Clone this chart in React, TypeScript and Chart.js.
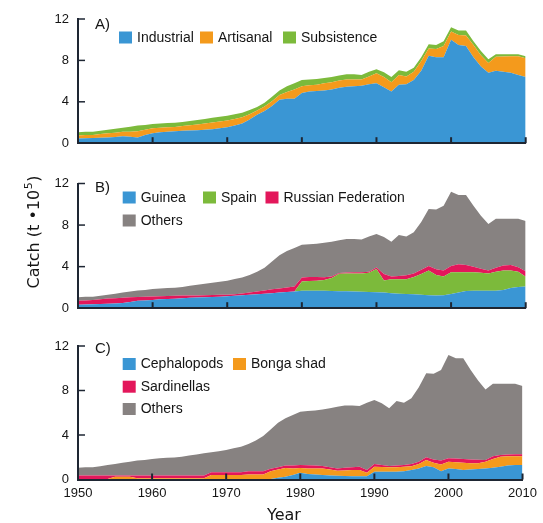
import React, { useEffect, useRef } from "react";
import { Chart, registerables } from "chart.js";
Chart.register(...registerables);

const YEARS = [
  1950, 1951, 1952, 1953, 1954, 1955, 1956, 1957, 1958, 1959,
  1960, 1961, 1962, 1963, 1964, 1965, 1966, 1967, 1968, 1969,
  1970, 1971, 1972, 1973, 1974, 1975, 1976, 1977, 1978, 1979,
  1980, 1981, 1982, 1983, 1984, 1985, 1986, 1987, 1988, 1989,
  1990, 1991, 1992, 1993, 1994, 1995, 1996, 1997, 1998, 1999,
  2000, 2001, 2002, 2003, 2004, 2005, 2006, 2007, 2008, 2009,
  2010,
];

const X_TICKS = [1950, 1960, 1970, 1980, 1990, 2000, 2010];
const Y_TICKS = [0, 4, 8, 12];

// Panel A — by sector (t x 10^5)
const INDUSTRIAL = [
  0.45, 0.48, 0.5, 0.52, 0.55, 0.6, 0.67, 0.62, 0.55, 0.8,
  0.95, 1.05, 1.1, 1.15, 1.2, 1.22, 1.25, 1.3, 1.35, 1.45,
  1.55, 1.7, 1.9, 2.3, 2.75, 3.1, 3.6, 4.2, 4.3, 4.3,
  4.85, 5.0, 5.05, 5.1, 5.2, 5.35, 5.45, 5.5, 5.55, 5.7,
  5.8, 5.4, 5.0, 5.65, 5.7, 6.1, 7.0, 8.45, 8.3, 8.3,
  10.0, 9.5, 9.4, 8.3, 7.4, 6.8, 7.0, 6.9, 6.8, 6.6,
  6.4,
];
const ARTISANAL = [
  0.3, 0.32, 0.3, 0.36, 0.4, 0.42, 0.43, 0.48, 0.6, 0.5,
  0.5, 0.45, 0.45, 0.42, 0.45, 0.51, 0.55, 0.6, 0.65, 0.65,
  0.65, 0.65, 0.6, 0.5, 0.4, 0.45, 0.45, 0.45, 0.65, 0.9,
  0.65, 0.6, 0.6, 0.7, 0.7, 0.7, 0.7, 0.65, 0.6, 0.75,
  0.95, 1.0, 0.9, 0.95, 0.75, 0.8, 0.95, 0.7, 0.8, 1.1,
  0.8, 0.95, 1.0, 1.2, 1.1, 0.95, 1.35, 1.48, 1.6, 1.8,
  1.8,
];
const SUBSISTENCE = [
  0.3, 0.3, 0.3, 0.32, 0.35, 0.38, 0.4, 0.5, 0.55, 0.45,
  0.4, 0.4, 0.4, 0.4, 0.4, 0.42, 0.45, 0.45, 0.45, 0.45,
  0.45, 0.45, 0.45, 0.4, 0.35, 0.35, 0.45, 0.45, 0.55, 0.6,
  0.6, 0.55, 0.55, 0.5, 0.5, 0.5, 0.5, 0.5, 0.45, 0.45,
  0.4, 0.45, 0.5, 0.45, 0.45, 0.4, 0.35, 0.4, 0.4, 0.45,
  0.4, 0.45, 0.5, 0.35, 0.4, 0.35, 0.25, 0.22, 0.2, 0.2,
  0.2,
];

// Panel B — by fishing country
const GUINEA = [
  0.33, 0.35, 0.38, 0.4, 0.42, 0.45, 0.5, 0.6, 0.72, 0.75,
  0.8, 0.85, 0.88, 0.92, 0.95, 1.0, 1.02, 1.05, 1.08, 1.1,
  1.15, 1.2, 1.25, 1.3, 1.35, 1.4, 1.44, 1.5, 1.55, 1.6,
  1.68, 1.68, 1.68, 1.68, 1.66, 1.64, 1.62, 1.6, 1.58, 1.55,
  1.53, 1.5, 1.45, 1.4, 1.37, 1.35, 1.3, 1.25, 1.23, 1.25,
  1.37, 1.5, 1.65, 1.68, 1.68, 1.68, 1.68, 1.75, 1.95, 2.05,
  2.1,
];
const SPAIN = [
  0, 0, 0, 0, 0, 0, 0, 0, 0, 0,
  0, 0, 0, 0, 0, 0, 0, 0, 0, 0,
  0, 0, 0, 0, 0, 0, 0, 0, 0, 0,
  0.89, 0.94, 0.97, 1.04, 1.24, 1.68, 1.71, 1.74, 1.77, 1.85,
  2.24, 1.16, 1.33, 1.38, 1.41, 1.65, 2.0, 2.37, 1.97, 1.8,
  2.1, 1.97, 1.82, 1.77, 1.72, 1.67, 1.82, 1.87, 1.67, 1.45,
  0.92,
];
const RUSSIA = [
  0.39, 0.4, 0.42, 0.45, 0.51, 0.5, 0.5, 0.45, 0.36, 0.35,
  0.32, 0.3, 0.3, 0.28, 0.27, 0.22, 0.2, 0.2, 0.19, 0.2,
  0.15, 0.15, 0.17, 0.2, 0.25, 0.3, 0.38, 0.4, 0.45, 0.5,
  0.39, 0.39, 0.35, 0.25, 0.15, 0.06, 0.1, 0.12, 0.12, 0.1,
  0.15, 0.64, 0.27, 0.32, 0.39, 0.35, 0.4, 0.45, 0.55, 0.57,
  0.6, 0.75, 0.68, 0.53, 0.4, 0.27, 0.4, 0.48, 0.53, 0.45,
  0.54,
];
const OTHERS_B = [
  0.33, 0.35, 0.3, 0.35, 0.37, 0.45, 0.5, 0.55, 0.62, 0.65,
  0.73, 0.75, 0.77, 0.77, 0.83, 0.93, 1.03, 1.1, 1.18, 1.25,
  1.35, 1.45, 1.53, 1.7, 1.9, 2.2, 2.68, 3.2, 3.5, 3.7,
  3.14, 3.14, 3.2, 3.33, 3.35, 3.17, 3.22, 3.19, 3.13, 3.4,
  3.23, 3.55, 3.35, 3.95, 3.73, 3.95, 4.6, 5.48, 5.75, 6.23,
  7.13, 6.68, 6.75, 5.87, 5.1, 4.48, 4.7, 4.5, 4.45, 4.65,
  4.84,
];

// Panel C — by taxon
const CEPHALOPODS = [
  0.05, 0.05, 0.05, 0.05, 0.05, 0.05, 0.05, 0.05, 0.05, 0.05,
  0.05, 0.05, 0.05, 0.05, 0.05, 0.05, 0.05, 0.05, 0.05, 0.05,
  0.05, 0.05, 0.05, 0.05, 0.05, 0.05, 0.05, 0.15, 0.25, 0.4,
  0.6, 0.5, 0.45, 0.4, 0.35, 0.33, 0.32, 0.3, 0.3, 0.3,
  0.7, 0.7, 0.7, 0.7, 0.75, 0.85, 1.0, 1.21, 1.1, 0.75,
  1.0, 0.95, 0.85, 0.9, 0.95, 1.0, 1.05, 1.15, 1.25, 1.3,
  1.3,
];
const BONGA = [
  0, 0, 0, 0, 0, 0.2, 0.2, 0.2, 0.07, 0.07,
  0.07, 0.07, 0.07, 0.07, 0.07, 0.07, 0.07, 0.07, 0.35, 0.35,
  0.35, 0.35, 0.35, 0.4, 0.4, 0.4, 0.7, 0.75, 0.79, 0.6,
  0.44, 0.5, 0.55, 0.6, 0.55, 0.46, 0.5, 0.55, 0.55, 0.31,
  0.45, 0.42, 0.4, 0.4, 0.4, 0.35, 0.4, 0.54, 0.4, 0.6,
  0.6, 0.6, 0.65, 0.57, 0.5, 0.6, 0.8, 0.9, 0.85, 0.8,
  0.8,
];
const SARDINELLAS = [
  0.3, 0.3, 0.3, 0.3, 0.3, 0.12, 0.12, 0.12, 0.25, 0.25,
  0.25, 0.25, 0.25, 0.25, 0.25, 0.25, 0.25, 0.25, 0.25, 0.25,
  0.25, 0.25, 0.25, 0.3, 0.3, 0.3, 0.21, 0.2, 0.21, 0.25,
  0.26, 0.28, 0.25, 0.21, 0.2, 0.21, 0.23, 0.25, 0.3, 0.24,
  0.24, 0.18, 0.11, 0.15, 0.15, 0.19, 0.2, 0.24, 0.3, 0.35,
  0.3, 0.33, 0.35, 0.33, 0.33, 0.15, 0.25, 0.15, 0.15, 0.17,
  0.18,
];
const OTHERS_C = [
  0.7, 0.75, 0.75, 0.85, 0.95, 1.03, 1.13, 1.23, 1.33, 1.38,
  1.48, 1.53, 1.58, 1.6, 1.68, 1.78, 1.88, 1.98, 1.8, 1.9,
  2.0, 2.15, 2.3, 2.45, 2.75, 3.15, 3.54, 4.0, 4.25, 4.55,
  4.8, 4.87, 4.95, 5.09, 5.3, 5.55, 5.6, 5.55, 5.45, 6.05,
  5.76, 5.55, 5.19, 5.8, 5.6, 5.91, 6.7, 7.56, 7.7, 8.15,
  9.3, 9.02, 9.05, 8.05, 7.12, 6.35, 6.5, 6.4, 6.35, 6.33,
  6.12,
];

const BLUE = "#3a96d4";
const ORANGE = "#f49a1c";
const GREEN = "#7cba3b";
const RED = "#e3175b";
const GRAY = "#878281";
const AXIS = "#1e2633";
const TEXT = "#151515";
const FONT = "'Liberation Sans', Arial, sans-serif";
const TITLE_FONT = "'DejaVu Sans', Verdana, sans-serif";

type Series = { label: string; values: number[]; color: string };
type LegendRow = { dy: number; items: { idx: number; dx: number }[] };
type PanelSpec = {
  top: number;
  height: number;
  padTop: number;
  xHeight: number;
  tag: string;
  tagDy: number;
  series: Series[];
  legend: LegendRow[];
  showXLabels: boolean;
  extra?: (chart: any) => void;
};

const PANELS: PanelSpec[] = [
  {
    top: 0,
    height: 160,
    padTop: 19,
    xHeight: 6.5,
    tag: "A)",
    tagDy: 6,
    series: [
      { label: "Industrial", values: INDUSTRIAL, color: BLUE },
      { label: "Artisanal", values: ARTISANAL, color: ORANGE },
      { label: "Subsistence", values: SUBSISTENCE, color: GREEN },
    ],
    legend: [
      { dy: 18.5, items: [{ idx: 0, dx: 41 }, { idx: 1, dx: 122 }, { idx: 2, dx: 205 }] },
    ],
    showXLabels: false,
  },
  {
    top: 160,
    height: 165,
    padTop: 23.5,
    xHeight: 8,
    tag: "B)",
    tagDy: 4.5,
    series: [
      { label: "Guinea", values: GUINEA, color: BLUE },
      { label: "Spain", values: SPAIN, color: GREEN },
      { label: "Russian Federation", values: RUSSIA, color: RED },
      { label: "Others", values: OTHERS_B, color: GRAY },
    ],
    legend: [
      { dy: 14, items: [{ idx: 0, dx: 44.7 }, { idx: 1, dx: 125 }, { idx: 2, dx: 187.5 }] },
      { dy: 37, items: [{ idx: 3, dx: 44.7 }] },
    ],
    showXLabels: false,
    extra: (chart: any) => {
      const ctx = chart.ctx as CanvasRenderingContext2D;
      ctx.save();
      ctx.translate(35, 232 - 160);
      ctx.rotate(-Math.PI / 2);
      ctx.fillStyle = TEXT;
      ctx.textBaseline = "middle";
      ctx.textAlign = "left";
      const main = "Catch (t \u202210";
      const sup = "5";
      const close = ")";
      ctx.font = `16px ${TITLE_FONT}`;
      const w1 = ctx.measureText(main).width;
      const w3 = ctx.measureText(close).width;
      ctx.font = `11px ${TITLE_FONT}`;
      const w2 = ctx.measureText(sup).width;
      const total = w1 + w2 + w3 + 1;
      let x = -total / 2;
      ctx.font = `16px ${TITLE_FONT}`;
      ctx.fillText(main, x, 0);
      x += w1;
      ctx.font = `11px ${TITLE_FONT}`;
      ctx.fillText(sup, x + 0.5, -6);
      x += w2 + 1;
      ctx.font = `16px ${TITLE_FONT}`;
      ctx.fillText(close, x, 0);
      ctx.restore();
    },
  },
  {
    top: 325,
    height: 198,
    padTop: 21,
    xHeight: 43.5,
    tag: "C)",
    tagDy: 3,
    series: [
      { label: "Cephalopods", values: CEPHALOPODS, color: BLUE },
      { label: "Bonga shad", values: BONGA, color: ORANGE },
      { label: "Sardinellas", values: SARDINELLAS, color: RED },
      { label: "Others", values: OTHERS_C, color: GRAY },
    ],
    legend: [
      { dy: 18, items: [{ idx: 0, dx: 44.7 }, { idx: 1, dx: 155 }] },
      { dy: 40.7, items: [{ idx: 2, dx: 44.7 }] },
      { dy: 63, items: [{ idx: 3, dx: 44.7 }] },
    ],
    showXLabels: true,
    extra: (chart: any) => {
      const ctx = chart.ctx as CanvasRenderingContext2D;
      ctx.save();
      ctx.fillStyle = TEXT;
      ctx.font = `16px ${TITLE_FONT}`;
      ctx.textAlign = "center";
      ctx.textBaseline = "middle";
      ctx.fillText("Year", 284, 516 - 325);
      ctx.restore();
    },
  },
];

function buildChart(canvas: HTMLCanvasElement, spec: PanelSpec) {
  const datasets = spec.series.map((s, i) => ({
    label: s.label,
    data: YEARS.map((yr, k) => ({ x: yr, y: s.values[k] })),
    backgroundColor: s.color,
    borderColor: s.color,
    borderWidth: 0,
    pointRadius: 0,
    pointHoverRadius: 0,
    tension: 0,
    fill: i === 0 ? "origin" : "-1",
  }));

  const deco = {
    id: "deco",
    afterDraw(chart: any) {
      const { ctx, chartArea: ca, scales } = chart;
      const xs = scales.x;
      const ys = scales.y;
      ctx.save();
      ctx.strokeStyle = AXIS;
      ctx.lineWidth = 2;
      X_TICKS.forEach((v) => {
        const px = xs.getPixelForValue(v);
        if (px - ca.left < 2) return;
        ctx.beginPath();
        ctx.moveTo(px, ca.bottom);
        ctx.lineTo(px, ca.bottom - 6);
        ctx.stroke();
      });
      ctx.lineWidth = 1.5;
      Y_TICKS.forEach((v) => {
        const py = ys.getPixelForValue(v);
        if (ca.bottom - py < 2) return;
        ctx.beginPath();
        ctx.moveTo(ca.left, py);
        ctx.lineTo(ca.left + 7, py);
        ctx.stroke();
      });
      ctx.fillStyle = TEXT;
      ctx.textBaseline = "middle";
      ctx.textAlign = "left";
      ctx.font = `15px ${FONT}`;
      ctx.fillText(spec.tag, ca.left + 17, ca.top + spec.tagDy);
      ctx.font = `14px ${FONT}`;
      spec.legend.forEach((row) => {
        row.items.forEach((it) => {
          const s = spec.series[it.idx];
          ctx.fillStyle = s.color;
          ctx.fillRect(ca.left + it.dx, ca.top + row.dy - 6, 13, 12);
          ctx.fillStyle = TEXT;
          ctx.fillText(s.label, ca.left + it.dx + 18, ca.top + row.dy + 0.5);
        });
      });
      ctx.restore();
      if (spec.extra) spec.extra(chart);
    },
  };

  return new Chart(canvas, {
    type: "line",
    data: { datasets },
    plugins: [deco],
    options: {
      animation: false,
      responsive: false,
      devicePixelRatio: 1,
      events: [],
      layout: { padding: { top: spec.padTop, right: 17.3, left: 0, bottom: 0 } },
      plugins: {
        legend: { display: false },
        tooltip: { enabled: false },
        filler: { propagate: false },
      },
      scales: {
        x: {
          type: "linear",
          min: 1950,
          max: 2010,
          afterFit: (sc: any) => {
            sc.height = spec.xHeight;
          },
          afterBuildTicks: (sc: any) => {
            sc.ticks = X_TICKS.map((v) => ({ value: v }));
          },
          grid: { display: false, drawTicks: false },
          border: { display: true, color: AXIS, width: 2, z: 1 },
          ticks: {
            display: spec.showXLabels,
            padding: 6,
            color: TEXT,
            font: { family: FONT, size: 13 },
            maxRotation: 0,
            callback: (v: any) => String(v),
          },
        },
        y: {
          type: "linear",
          stacked: true,
          min: 0,
          max: 12,
          afterFit: (sc: any) => {
            sc.width = 78;
          },
          afterBuildTicks: (sc: any) => {
            sc.ticks = Y_TICKS.map((v) => ({ value: v }));
          },
          grid: { display: false, drawTicks: false },
          border: { display: true, color: AXIS, width: 2, z: 1 },
          ticks: {
            padding: 9,
            color: TEXT,
            font: { family: FONT, size: 13 },
            callback: (v: any) => String(v),
          },
        },
      },
    },
  } as any);
}

export default function App() {
  const refs = [
    useRef<HTMLCanvasElement>(null),
    useRef<HTMLCanvasElement>(null),
    useRef<HTMLCanvasElement>(null),
  ];
  useEffect(() => {
    const charts = PANELS.map((p, i) => buildChart(refs[i].current as HTMLCanvasElement, p));
    return () => charts.forEach((c) => c.destroy());
  }, []);
  return (
    <div style={{ position: "absolute", left: 0, top: 0, width: 543, height: 523, background: "#fff" }}>
      {PANELS.map((p, i) => (
        <canvas
          key={i}
          ref={refs[i]}
          width={543}
          height={p.height}
          style={{ position: "absolute", left: 0, top: p.top, width: 543, height: p.height }}
        />
      ))}
    </div>
  );
}
